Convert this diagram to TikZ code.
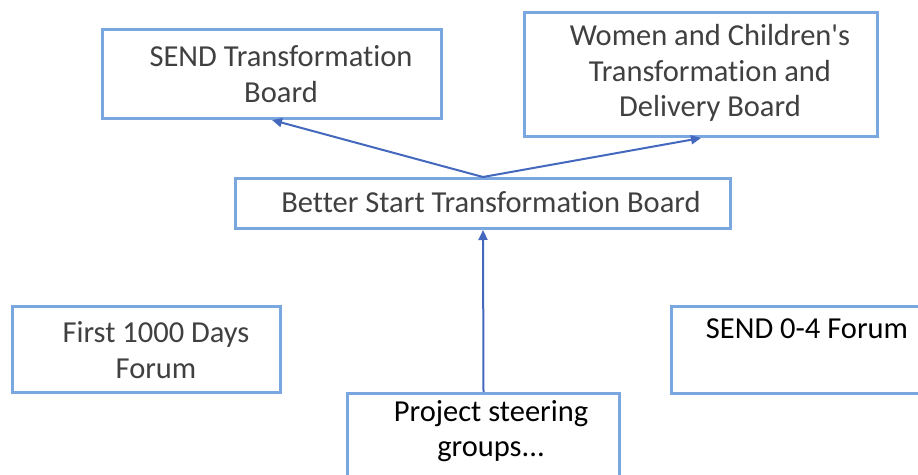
\documentclass[tikz,border=0pt]{standalone}
\usepackage{fontspec}
\setmainfont{Carlito}[Ligatures={TeXOff,NoCommon}]
\usetikzlibrary{arrows.meta}
\definecolor{boxline}{HTML}{7BA7E1}
\definecolor{arrowblue}{HTML}{4468BE}
\definecolor{greytext}{HTML}{404040}
\begin{document}
\begin{tikzpicture}[x=1pt,y=-1pt,
  box/.style={draw=boxline, line width=3pt, fill=white, rectangle, inner sep=0pt, anchor=north west},
  label/.style={font=\fontsize{30.5}{35.5}\selectfont, align=center, inner sep=0pt, text=greytext},
  darklabel/.style={label, text=black},
  arr/.style={draw=arrowblue, line width=2pt, -{Triangle[length=10pt,width=9pt]}}]
\useasboundingbox (0,0) rectangle (918,474);
\clip (0,0) rectangle (918,474);
\fill[white] (0,0) rectangle (918,474);

% boards
\node[box, minimum width=339pt, minimum height=89pt] (send) at (101,28) {};
\node[label] (sendt) at (281,74) {SEND Transformation\\Board};

\node[box, minimum width=353pt, minimum height=124pt] (wc) at (523,11) {};
\node[label] (wct) at (710,73) {Women and Children's\\Transformation and\\Delivery Board};

\node[box, minimum width=495pt, minimum height=50pt] (better) at (234,177) {};
\node[label] (bettert) at (491,202) {Better Start Transformation Board};

% forums and groups
\node[box, minimum width=268pt, minimum height=86pt] (first) at (11,305) {};
\node[label] (firstt) at (156,350) {First 1000 Days\\Forum};

\node[box, minimum width=272pt, minimum height=120pt] (proj) at (346,392) {};
\node[darklabel] (projt) at (491,431) {Project steering\\groups...};

\node[box, minimum width=300pt, minimum height=87pt] (send04) at (670,305) {};
\node[darklabel] (send04t) at (807,329) {SEND 0-4 Forum};

% reporting lines
\draw[arr] (better.north) -- (send.south);
\draw[arr] (better.north) -- (wc.south);
\draw[arr] (proj.north) -- (better.south);
\end{tikzpicture}
\end{document}
